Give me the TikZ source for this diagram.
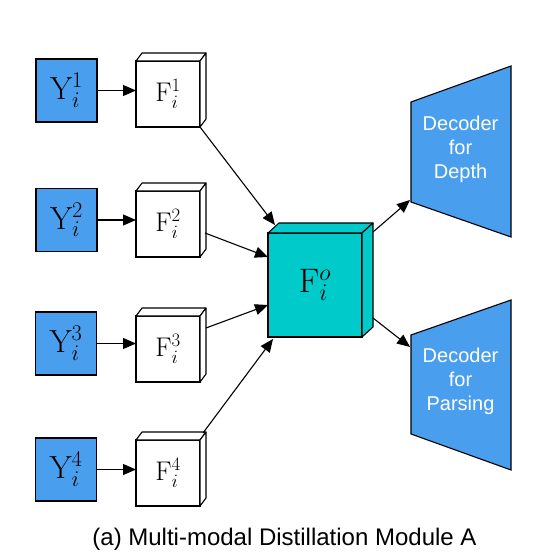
\RequirePackage{fix-cm}
\documentclass[tikz,border=0pt]{standalone}
\usepackage{fontspec}
\newfontfamily\sansfont{Liberation Sans}
\usetikzlibrary{calc,arrows.meta}
\definecolor{yblue}{RGB}{74,158,238}
\definecolor{teal0}{RGB}{0,202,202}
\tikzset{
  ybox/.style={draw=black, fill=yblue, line width=1.1pt, inner sep=0pt, outer sep=0pt,
     minimum width=61pt, minimum height=63pt, font=\fontsize{32}{38}\selectfont},
  fbox/.style={draw=black, fill=white, line width=1.1pt, inner sep=0pt, outer sep=0pt,
     minimum width=64pt, minimum height=66pt, font=\fontsize{27}{32}\selectfont},
  obox/.style={draw=black, fill=teal0, line width=1.1pt, inner sep=0pt, outer sep=0pt,
     minimum width=94pt, minimum height=104pt, font=\fontsize{34}{40}\selectfont},
  arr/.style={-{Triangle[length=13pt,width=11pt]}, line width=1.1pt},
  dec/.style={draw=black, fill=yblue, line width=1.1pt},
  dectext/.style={text=white, align=center, font=\sansfont\fontsize{20}{24}\selectfont, inner sep=0pt},
}
\begin{document}
\begin{tikzpicture}[x=1pt,y=-1pt]
\useasboundingbox (0,0) rectangle (536,559);
% Y boxes
\node[ybox] (Y1) at (66.5,90.5) {$\mathrm{Y}_i^1$};
\node[ybox] (Y2) at (66.5,220) {$\mathrm{Y}_i^2$};
\node[ybox] (Y3) at (66,343.5) {$\mathrm{Y}_i^3$};
\node[ybox] (Y4) at (66,469.5) {$\mathrm{Y}_i^4$};
% F cubes
\foreach \n/\y in {1/94,2/224,3/349,4/473}{
  \node[fbox] (F\n) at (168,\y) {$\mathrm{F}_i^{\n}$};
  \draw[fill=white, line width=1.1pt, line join=round]
    (F\n.north west) -- ++(6,-8) -- ($(F\n.north east)+(6,-8)$) -- (F\n.north east) -- cycle;
  \draw[fill=white, line width=1.1pt, line join=round]
    (F\n.north east) -- ++(6,-8) -- ($(F\n.south east)+(6,-8)$) -- (F\n.south east) -- cycle;
}
% Fo cube
\node[obox] (Fo) at (315,285) {$\mathrm{F}_i^{o}$};
\draw[fill=teal0, line width=1.1pt, line join=round]
  (Fo.north west) -- ++(11,-10) -- ($(Fo.north east)+(11,-10)$) -- (Fo.north east) -- cycle;
\draw[fill=teal0, line width=1.1pt, line join=round]
  (Fo.north east) -- ++(11,-10) -- ($(Fo.south east)+(11,-10)$) -- (Fo.south east) -- cycle;
% decoders
\draw[dec] (411,102) -- (511,66) -- (511,237) -- (411,202) -- cycle;
\node[dectext] (D1) at (460.5,149) {Decoder\\for\\Depth};
\draw[dec] (411,335) -- (511,300) -- (511,470) -- (411,434) -- cycle;
\node[dectext] (D2) at (460.5,381) {Decoder\\for\\Parsing};
\coordinate (D1in) at (410,200);
\coordinate (D2in) at (410,347);
% arrows Y -> F
\foreach \n in {1,2,3,4}{
  \draw[arr] (Y\n.east) -- (Y\n.east -| F\n.west);
}
% arrows F -> Fo
\draw[arr] (F1.south east) -- ($(Fo.north west)+(7,-8)$);
\draw[arr] ($(F2.east)+(5,9)$) -- ($(Fo.north west)+(0,24)$);
\draw[arr] ($(F3.east)+(6,-21)$) -- ($(Fo.north west)+(0,72)$);
\draw[arr] ($(F4.north east)+(3,-7)$) -- ($(Fo.south west)+(5,2)$);
% arrows Fo -> decoders
\draw[arr] ($(Fo.north east)+(11,-1)$) -- (D1in);
\draw[arr] ($(Fo.south east)+(11,-19)$) -- (D2in);
% caption
\node[anchor=base, inner sep=0pt, font=\sansfont\fontsize{24}{28}\selectfont] (cap) at (284.5,545) {(a) Multi-modal Distillation Module A};
\end{tikzpicture}
\end{document}
